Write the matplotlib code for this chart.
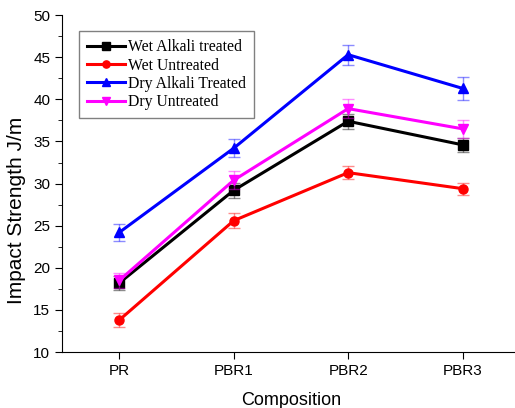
import matplotlib.pyplot as plt
from matplotlib.ticker import MultipleLocator

categories = ["PR", "PBR1", "PBR2", "PBR3"]

wet_alkali = [18.2, 29.2, 37.4, 34.6]
wet_alkali_err = [0.8, 0.9, 0.9, 0.8]
wet_untreated = [13.8, 25.6, 31.3, 29.4]
wet_untreated_err = [0.8, 0.9, 0.8, 0.7]
dry_alkali = [24.2, 34.2, 45.3, 41.3]
dry_alkali_err = [1.0, 1.1, 1.2, 1.4]
dry_untreated = [18.5, 30.4, 38.9, 36.5]
dry_untreated_err = [0.9, 1.1, 1.1, 1.1]

series = [
    ("Wet Alkali treated", wet_alkali, wet_alkali_err, "black", "s"),
    ("Wet Untreated", wet_untreated, wet_untreated_err, "red", "o"),
    ("Dry Alkali Treated", dry_alkali, dry_alkali_err, "blue", "^"),
    ("Dry Untreated", dry_untreated, dry_untreated_err, "magenta", "v"),
]

plt.rcParams['font.family'] = ['Liberation Sans', 'DejaVu Sans']

fig = plt.figure(figsize=(5.15, 4.08), dpi=100)
ax = fig.add_axes([0.1204, 0.137, 0.889, 0.826])

x = list(range(len(categories)))
for label, vals, errs, col, mk in series:
    ax.errorbar(x, vals, yerr=errs, fmt='none', ecolor=col, alpha=0.45,
                elinewidth=1, capsize=4, capthick=1)
    ax.plot(x, vals, color=col, marker=mk, lw=2.2, ms=6.5, label=label)

ax.set_xlim(-0.5, 3.5)
ax.set_ylim(10, 50)
ax.set_xticks(x)
ax.set_xticklabels(categories)
ax.yaxis.set_major_locator(MultipleLocator(5))
ax.yaxis.set_minor_locator(MultipleLocator(2.5))
ax.tick_params(axis='both', direction='out', labelsize=11, length=5)
ax.tick_params(axis='y', which='minor', direction='out', length=3)
ax.spines['top'].set_visible(False)
ax.spines['right'].set_visible(False)

ax.set_xlabel("Composition", fontsize=13, labelpad=10)
ax.set_ylabel("Impact Strength J/m", fontsize=15)
ax.yaxis.set_label_coords(-0.078, 0.42)

leg = ax.legend(loc='upper left', bbox_to_anchor=(0.02, 0.975), fancybox=False,
                edgecolor='gray', framealpha=1, handlelength=2.4,
                handletextpad=0.2, labelspacing=0.15, borderpad=0.5,
                markerscale=0.8,
                prop={'family': 'Liberation Serif', 'size': 11.3})
leg.get_frame().set_linewidth(1)

fig.savefig("out.png", dpi=100)
